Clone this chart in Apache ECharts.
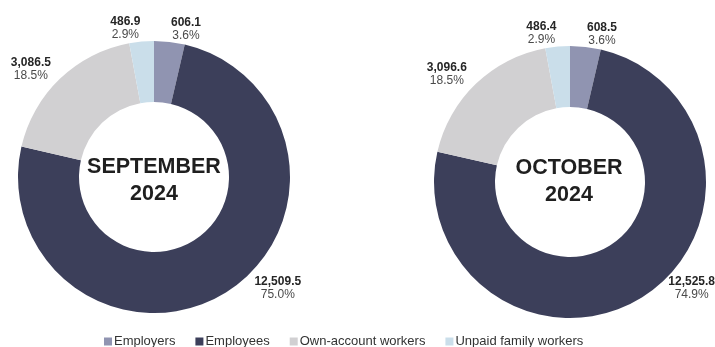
<!DOCTYPE html>
<html>
<head>
<meta charset="utf-8">
<script src="https://cdn.jsdelivr.net/npm/echarts@6/dist/echarts.min.js"></script>
<style>
  html, body { margin: 0; padding: 0; background: #ffffff; }
  #chart { width: 715px; height: 347px; }
</style>
</head>
<body>
<div id="chart"></div>
<script>
// Employment by class of worker, in thousands
const categories = ['Employers', 'Employees', 'Own-account workers', 'Unpaid family workers'];
const colors = ['#9094b1', '#3c3f5a', '#d1d0d2', '#cadeea'];

const periodLabels = ['SEPTEMBER\n2024', 'OCTOBER\n2024'];
const septemberValues = [606.1, 12509.5, 3086.5, 486.9];
const septemberShares = ['3.6%', '75.0%', '18.5%', '2.9%'];
const octoberValues = [608.5, 12525.8, 3096.6, 486.4];
const octoberShares = ['3.6%', '74.9%', '18.5%', '2.9%'];

const FONT = "'Liberation Sans', Arial, Helvetica, sans-serif";

function fmt(v) {
  return v.toLocaleString('en-US', { minimumFractionDigits: 1, maximumFractionDigits: 1 });
}

// per-slice label offsets along the radius (length) and sideways (length2)
function buildData(values, shares, bigLen) {
  return categories.map((name, i) => {
    const item = { name, value: values[i], share: shares[i], itemStyle: { color: colors[i] } };
    if (i === 1) item.labelLine = { show: false, length: bigLen[0], length2: bigLen[1] };
    return item;
  });
}

function donut(center, values, shares, bigLen) {
  return {
    type: 'pie',
    left: 0, top: 0, width: 1000, height: 600,
    center: center,
    radius: [75, 136],
    startAngle: 90,
    clockwise: true,
    avoidLabelOverlap: false,
    silent: true,
    label: {
      show: true,
      position: 'outside',
      distanceToLabelLine: 0,
      bleedMargin: 0,
      overflow: 'none',
      formatter: p => '{v|' + fmt(p.value) + '}\n{p|' + p.data.share + '}',
      rich: {
        v: { fontFamily: FONT, fontSize: 12, fontWeight: 'bold', color: '#262626', align: 'center', lineHeight: 13 },
        p: { fontFamily: FONT, fontSize: 12, color: '#4a4a4a', align: 'center', lineHeight: 13 }
      }
    },
    labelLine: { show: false, length: 13, length2: 0 },
    data: buildData(values, shares, bigLen)
  };
}

const chart = echarts.init(document.getElementById('chart'), null, { renderer: 'canvas' });

chart.setOption({
  animation: false,
  backgroundColor: '#ffffff',
  legend: {
    data: categories,
    left: 104,
    top: 335,
    padding: 0,
    icon: 'rect',
    itemWidth: 8,
    itemHeight: 8,
    itemGap: 20,
    selectedMode: false,
    textStyle: { fontFamily: FONT, fontSize: 13, color: '#333333', padding: [0, 0, 0, -3] }
  },
  graphic: [
    {
      type: 'text', x: 154, y: 181,
      style: { text: periodLabels[0], fontFamily: FONT, fontSize: 21.5, fontWeight: 'bold',
               fill: '#1f1f1f', align: 'center', verticalAlign: 'middle', lineHeight: 27 }
    },
    {
      type: 'text', x: 569, y: 182,
      style: { text: periodLabels[1], fontFamily: FONT, fontSize: 21.5, fontWeight: 'bold',
               fill: '#1f1f1f', align: 'center', verticalAlign: 'middle', lineHeight: 27 }
    }
  ],
  series: [
    donut([154, 177], septemberValues, septemberShares, [-5, 31]),
    donut([570, 182], octoberValues, octoberShares, [-11, 32])
  ]
});
</script>
</body>
</html>
